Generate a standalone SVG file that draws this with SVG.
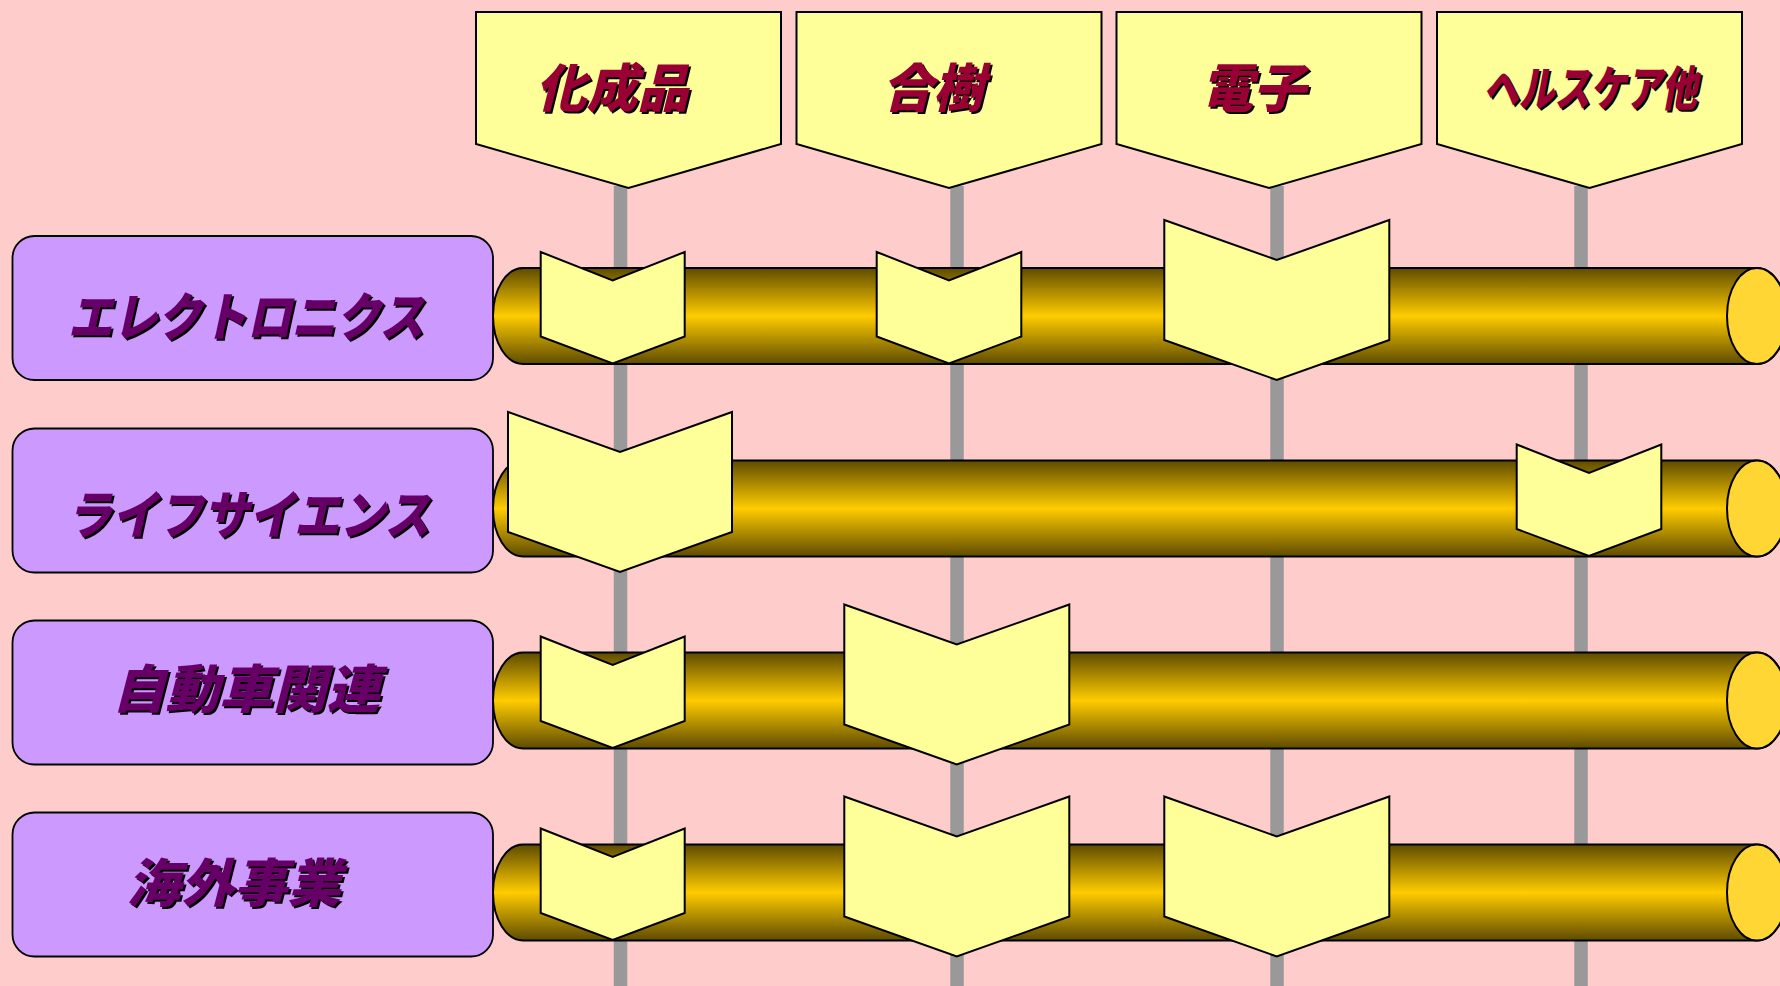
<svg xmlns="http://www.w3.org/2000/svg" width="1780" height="986" viewBox="0 0 1780 986">
<style>
.bg{fill:#ffcccc}
.vline{stroke:#999999;stroke-width:13.5;fill:none}
.hdr{fill:#ffff99;stroke:#000;stroke-width:2;stroke-linejoin:miter}
.chev{fill:#ffff99;stroke:#000;stroke-width:2;stroke-linejoin:miter}
.lbl{fill:#cc99ff;stroke:#000;stroke-width:1.8}
.body{fill:url(#cyl);stroke:#000;stroke-width:2}
.cap{fill:#ffd633;stroke:#000;stroke-width:2}
.t{font-family:"Noto Sans CJK JP","Noto Sans CJK SC",sans-serif;font-weight:900;font-style:italic;font-size:52px;text-anchor:middle}
.sm{font-size:48px}
.sh{fill:#000}
.ht{fill:#990033}
.lt{fill:#660066}
</style>
<defs>
<linearGradient id="cyl" x1="0" y1="0" x2="0" y2="1">
<stop offset="0" stop-color="#5e4b00"/>
<stop offset="0.5" stop-color="#ffcc00"/>
<stop offset="1" stop-color="#5e4b00"/>
</linearGradient>
</defs>
<rect class="bg" x="0" y="0" width="1780" height="986"/>

<g id="connectors">
<line class="vline" x1="620.5" y1="186" x2="620.5" y2="986"/>
<line class="vline" x1="957" y1="186" x2="957" y2="986"/>
<line class="vline" x1="1277" y1="186" x2="1277" y2="986"/>
<line class="vline" x1="1581" y1="186" x2="1581" y2="986"/>
</g>

<g id="headers">
<g id="h-kaseihin">
<polygon class="hdr" points="476,12 781,12 781,144 628.5,188 476,144"/>
<text class="t sh" x="614" y="109" textLength="153" lengthAdjust="spacingAndGlyphs">化成品</text>
<text class="t ht" x="612" y="107" textLength="153" lengthAdjust="spacingAndGlyphs">化成品</text>
</g>
<g id="h-jushi">
<polygon class="hdr" points="796.5,12 1101.5,12 1101.5,144 949,188 796.5,144"/>
<text class="t sh" x="935" y="109" textLength="102" lengthAdjust="spacingAndGlyphs">合樹</text>
<text class="t ht" x="933" y="107" textLength="102" lengthAdjust="spacingAndGlyphs">合樹</text>
</g>
<g id="h-denshi">
<polygon class="hdr" points="1116.5,12 1421.5,12 1421.5,144 1269,188 1116.5,144"/>
<text class="t sh" x="1255" y="109" textLength="105" lengthAdjust="spacingAndGlyphs">電子</text>
<text class="t ht" x="1253" y="107" textLength="105" lengthAdjust="spacingAndGlyphs">電子</text>
</g>
<g id="h-health">
<polygon class="hdr" points="1437,12 1742,12 1742,144 1589.5,188 1437,144"/>
<text class="t sm sh" x="1592" y="108" textLength="214" lengthAdjust="spacingAndGlyphs">ヘルスケア他</text>
<text class="t sm ht" x="1590" y="106" textLength="214" lengthAdjust="spacingAndGlyphs">ヘルスケア他</text>
</g>
</g>

<g id="cylinders">
<g id="cyl-1">
<path class="body" d="M523,268 H1757 A30,48 0 0 1 1757,364 H523 A30,48 0 0 1 523,268 Z"/>
<ellipse class="cap" cx="1757" cy="316" rx="30" ry="48"/>
</g>
<g id="cyl-2">
<path class="body" d="M523,460.5 H1757 A30,48 0 0 1 1757,556.5 H523 A30,48 0 0 1 523,460.5 Z"/>
<ellipse class="cap" cx="1757" cy="508.5" rx="30" ry="48"/>
</g>
<g id="cyl-3">
<path class="body" d="M523,652.5 H1757 A30,48 0 0 1 1757,748.5 H523 A30,48 0 0 1 523,652.5 Z"/>
<ellipse class="cap" cx="1757" cy="700.5" rx="30" ry="48"/>
</g>
<g id="cyl-4">
<path class="body" d="M523,844.5 H1757 A30,48 0 0 1 1757,940.5 H523 A30,48 0 0 1 523,844.5 Z"/>
<ellipse class="cap" cx="1757" cy="892.5" rx="30" ry="48"/>
</g>
</g>

<g id="labels">
<g id="l-electronics">
<rect class="lbl" x="12.5" y="236" width="480.5" height="144" rx="22"/>
<text class="t sh" x="248" y="338" textLength="356" lengthAdjust="spacingAndGlyphs">エレクトロニクス</text>
<text class="t lt" x="246" y="336" textLength="356" lengthAdjust="spacingAndGlyphs">エレクトロニクス</text>
</g>
<g id="l-lifescience">
<rect class="lbl" x="12.5" y="428.5" width="480.5" height="144" rx="22"/>
<text class="t sh" x="250" y="536" textLength="364" lengthAdjust="spacingAndGlyphs">ライフサイエンス</text>
<text class="t lt" x="248" y="534" textLength="364" lengthAdjust="spacingAndGlyphs">ライフサイエンス</text>
</g>
<g id="l-auto">
<rect class="lbl" x="12.5" y="620.5" width="480.5" height="144" rx="22"/>
<text class="t sh" x="248" y="710" textLength="268" lengthAdjust="spacingAndGlyphs">自動車関連</text>
<text class="t lt" x="246" y="708" textLength="268" lengthAdjust="spacingAndGlyphs">自動車関連</text>
</g>
<g id="l-overseas">
<rect class="lbl" x="12.5" y="812.5" width="480.5" height="144" rx="22"/>
<text class="t sh" x="236" y="904" textLength="214" lengthAdjust="spacingAndGlyphs">海外事業</text>
<text class="t lt" x="234" y="902" textLength="214" lengthAdjust="spacingAndGlyphs">海外事業</text>
</g>
</g>

<g id="chevrons">
<polygon id="c-1-1" class="chev" points="540.7,252 612.7,280.5 684.7,252 684.7,336.5 612.7,363.5 540.7,336.5"/>
<polygon id="c-1-2" class="chev" points="876.7,252 949,280.5 1021.3,252 1021.3,336.5 949,363.5 876.7,336.5"/>
<polygon id="c-1-3" class="chev" points="1164.3,220 1276.8,260 1389.3,220 1389.3,340 1276.8,380 1164.3,340"/>
<polygon id="c-2-1" class="chev" points="508,412 620,452 732,412 732,532 620,572 508,532"/>
<polygon id="c-2-4" class="chev" points="1516.7,444.5 1589,473 1661.3,444.5 1661.3,529 1589,556 1516.7,529"/>
<polygon id="c-3-1" class="chev" points="540.7,636.5 612.7,665 684.7,636.5 684.7,721 612.7,748 540.7,721"/>
<polygon id="c-3-2" class="chev" points="844.3,604.5 956.8,644.5 1069.3,604.5 1069.3,724.5 956.8,764.5 844.3,724.5"/>
<polygon id="c-4-1" class="chev" points="540.7,828.5 612.7,857 684.7,828.5 684.7,913 612.7,940 540.7,913"/>
<polygon id="c-4-2" class="chev" points="844.3,796.5 956.8,836.5 1069.3,796.5 1069.3,916.5 956.8,956.5 844.3,916.5"/>
<polygon id="c-4-3" class="chev" points="1164.3,796.5 1276.8,836.5 1389.3,796.5 1389.3,916.5 1276.8,956.5 1164.3,916.5"/>
</g>
</svg>
